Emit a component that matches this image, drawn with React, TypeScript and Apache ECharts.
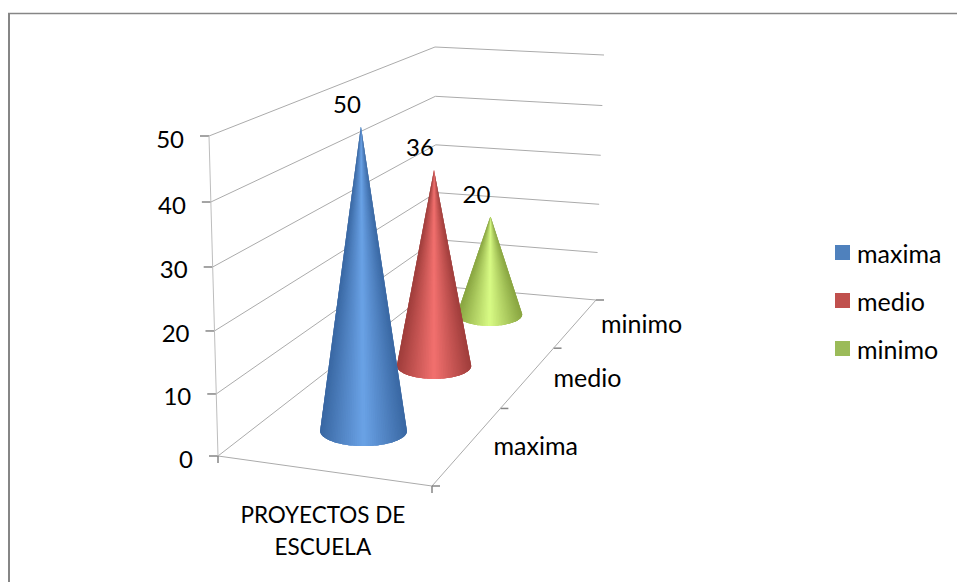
import React, { useEffect, useRef } from "react";
import * as echarts from "echarts";

const depthCategories = ["maxima", "medio", "minimo"];
const groupLabel = "PROYECTOS DE\nESCUELA";
const valueTicks = [0, 10, 20, 30, 40, 50];
const maximaValue = 50;
const medioValue = 36;
const minimoValue = 20;

const FONT = "Lato, Carlito, Calibri, sans-serif";
const WORD_SIZE = 25;
const DIGIT_SIZE = 24;
const CAPS_SIZE = 22.5;

// Corners of the 3D plot box, in pixels: floor, then the plane at the axis maximum.
type P = [number, number];
const floorFL: P = [218, 456];
const floorFR: P = [432, 486];
const floorBR: P = [596, 300];
const floorBL: P = [437, 286];
const topFL: P = [209, 136];
const topFR: P = [433, 161];
const topBR: P = [604, 55];
const topBL: P = [435, 47];

// Foreshortening of the depth and height axes.
const DEPTH_PERSPECTIVE = 0.43;
const HEIGHT_PERSPECTIVE = -0.038;
const warp = (t: number, k: number) => (t * (1 + k)) / (1 + k * t);
const mix = (a: P, b: P, t: number): P => [a[0] + (b[0] - a[0]) * t, a[1] + (b[1] - a[1]) * t];

function project(u: number, depth: number, height: number): P {
  const d = warp(depth, DEPTH_PERSPECTIVE);
  const h = warp(height, HEIGHT_PERSPECTIVE);
  const low = mix(mix(floorFL, floorFR, u), mix(floorBL, floorBR, u), d);
  const high = mix(mix(topFL, topFR, u), mix(topBL, topBR, u), d);
  return mix(low, high, h);
}

// Reads the depth and height fractions of a data point off the hidden cartesian axes.
function fractions(params: any, api: any, category: number, value: number) {
  const sys = params.coordSys;
  const pt = api.coord([category, value]);
  return {
    depth: (pt[0] - sys.x) / sys.width,
    height: (sys.y + sys.height - pt[1]) / sys.height,
  };
}

const GRID_COLOR = "#ababab";
const TICK_COLOR = "#868686";
const line = (a: P, b: P, stroke: string, lineWidth = 1) => ({
  type: "line",
  shape: { x1: a[0], y1: a[1], x2: b[0], y2: b[1] },
  style: { stroke, lineWidth, fill: "none" },
  silent: true,
});
const label = (text: string, x: number, y: number, align: string, size: number, lineHeight?: number) => ({
  type: "text",
  x,
  y,
  style: {
    text,
    x: 0,
    y: 0,
    fill: "#000",
    font: `${size}px ${FONT}`,
    fontFamily: FONT,
    fontSize: size,
    align,
    verticalAlign: "middle",
    lineHeight,
  },
  silent: true,
});

// One tick of the value axis: wall gridlines, tick mark and its label.
function renderValueTick(params: any, api: any) {
  const value = api.value(1);
  const { height } = fractions(params, api, 0, value);
  const front = project(0, 0, height);
  const back = project(0, 1, height);
  const right = project(1, 1, height);
  return {
    type: "group",
    children: [
      line(front, back, GRID_COLOR),
      line(back, right, GRID_COLOR),
      line([front[0] - 9, front[1]], front, TICK_COLOR, 1.5),
      label(String(value), front[0] - 25, front[1] + 2, "right", DIGIT_SIZE),
    ],
  };
}

// Depth axis tick at a category boundary, with the category name at the band centre.
function renderDepthTick(params: any, api: any) {
  const i = params.dataIndex;
  const centreDepth = fractions(params, api, i, 0).depth;
  const bandHalf = 0.5 / depthCategories.length;
  const edge = project(1, centreDepth + bandHalf, 0);
  const mid = project(1, centreDepth, 0);
  return {
    type: "group",
    children: [
      line(edge, [edge[0] + 8, edge[1]], TICK_COLOR, 1.5),
      label(depthCategories[i], mid[0] + 25, mid[1], "left", WORD_SIZE),
    ],
  };
}

// Box edges that are not tied to a particular value.
function renderBox() {
  const f0 = project(0, 0, 0);
  const f1 = project(1, 0, 0);
  const b1 = project(1, 1, 0);
  const t0 = project(0, 0, 1);
  const centre = mix(f0, f1, 0.49);
  return {
    type: "group",
    children: [
      line(f0, t0, "#bdbdbd"),
      line(f0, f1, GRID_COLOR),
      line(f1, b1, GRID_COLOR),
      line(f0, [f0[0], f0[1] + 7], TICK_COLOR, 1.5),
      line(f1, [f1[0], f1[1] + 7], TICK_COLOR, 1.5),
      line(f1, [f1[0] + 8, f1[1]], TICK_COLOR, 1.5),
      label(groupLabel, centre[0], 530, "center", CAPS_SIZE, 32),
    ],
  };
}

const hex = (c: number[]) =>
  "#" + c.map((v) => Math.round(v).toString(16).padStart(2, "0")).join("");

// A cone drawn as a fan of triangles from the apex, shaded by angle around its axis.
// Each triangle runs on under the next one, so no seams show between them.
const CONE_U = 0.48;
const SLICES = 64;
function coneRenderer(edge: number[], centre: number[]) {
  return (params: any, api: any) => {
    const category = api.value(0);
    const value = api.value(1);
    const { depth, height } = fractions(params, api, category, value);
    const base = project(CONE_U, depth, 0);
    const apex = project(CONE_U, depth, height);
    const d = warp(depth, DEPTH_PERSPECTIVE);
    const floorWidth = project(1, depth, 0)[0] - project(0, depth, 0)[0];
    const rx = floorWidth * (0.2215 - 0.029 * d);
    const ry = rx * 0.35;
    const rise = base[1] - apex[1];
    const over = Math.asin(Math.min(1, ry / rise));
    const sweep = Math.PI + 2 * over;
    const rim = (a: number): P => [base[0] + rx * Math.cos(a), base[1] + ry * Math.sin(a)];
    const children: any[] = [];
    for (let i = 0; i < SLICES; i++) {
      const a0 = -over + (sweep * i) / SLICES;
      const a1 = -over + (sweep * (i + 1)) / SLICES;
      const s = Math.cos((a0 + a1) / 2);
      const glow = 1 - Math.abs(s);
      const color = hex(edge.map((v, k) => v + (centre[k] - v) * glow));
      const points: P[] = [apex];
      // The fan goes from the right rim to the left, drawn over what came before.
      const steps = Math.min(SLICES - i, 3);
      for (let j = 0; j <= steps; j++) {
        points.push(rim(a0 + (a1 - a0) * j));
      }
      children.push({
        type: "polygon",
        shape: { points },
        style: { fill: color, stroke: "none" },
        silent: true,
      });
    }
    children.push(label(String(value), apex[0] - 14, apex[1] - 23, "center", DIGIT_SIZE));
    return { type: "group", children };
  };
}

const coneSeries = (
  name: string,
  category: number,
  value: number,
  legendColor: string,
  edge: number[],
  centre: number[],
  z: number
) => ({
  type: "custom",
  name,
  coordinateSystem: "cartesian2d",
  clip: false,
  z,
  itemStyle: { color: legendColor },
  data: [[category, value]],
  encode: { x: 0, y: 1 },
  renderItem: coneRenderer(edge, centre),
});

export default function App() {
  const ref = useRef<HTMLDivElement>(null);
  useEffect(() => {
    document.body.style.margin = "0";
    document.body.style.background = "#fff";
    const chart = echarts.init(ref.current!, undefined, { renderer: "svg" });
    chart.setOption({
      animation: false,
      backgroundColor: "#fff",
      textStyle: { fontFamily: FONT },
      grid: { left: 218, top: 136, width: 214, height: 320 },
      xAxis: { type: "category", data: depthCategories, show: false },
      yAxis: { type: "value", min: 0, max: 50, interval: 10, show: false },
      legend: {
        orient: "vertical",
        left: 835,
        top: 240,
        padding: 0,
        itemWidth: 15,
        itemHeight: 15,
        itemGap: 23,
        icon: "rect",
        data: depthCategories,
        textStyle: {
          fontFamily: FONT,
          fontSize: WORD_SIZE,
          lineHeight: 24,
          color: "#000",
          padding: [0, 0, 0, 2],
        },
        selectedMode: false,
      },
      graphic: [
        { type: "line", shape: { x1: 9, y1: 13, x2: 9, y2: 582 }, style: { stroke: "#868686", lineWidth: 2 } },
        { type: "line", shape: { x1: 8, y1: 13.5, x2: 957, y2: 13.5 }, style: { stroke: "#868686", lineWidth: 1.5 } },
      ],
      series: [
        {
          type: "custom",
          coordinateSystem: "cartesian2d",
          clip: false,
          z: 1,
          data: valueTicks.map((t) => [0, t]),
          encode: { x: 0, y: 1 },
          renderItem: renderValueTick,
        },
        {
          type: "custom",
          coordinateSystem: "cartesian2d",
          clip: false,
          z: 1,
          data: depthCategories.map((_, i) => [i, 0]),
          encode: { x: 0, y: 1 },
          renderItem: renderDepthTick,
        },
        {
          type: "custom",
          coordinateSystem: "cartesian2d",
          clip: false,
          z: 1,
          data: [[0, 0]],
          encode: { x: 0, y: 1 },
          renderItem: renderBox,
        },
        coneSeries("maxima", 0, maximaValue, "#4f81bd", [58, 104, 163], [106, 162, 230], 5),
        coneSeries("medio", 1, medioValue, "#c0504d", [160, 62, 60], [242, 112, 110], 4),
        coneSeries("minimo", 2, minimoValue, "#9bbb59", [138, 166, 66], [216, 251, 133], 3),
      ],
    });
    return () => chart.dispose();
  }, []);
  return <div ref={ref} style={{ width: 957, height: 582 }} />;
}
